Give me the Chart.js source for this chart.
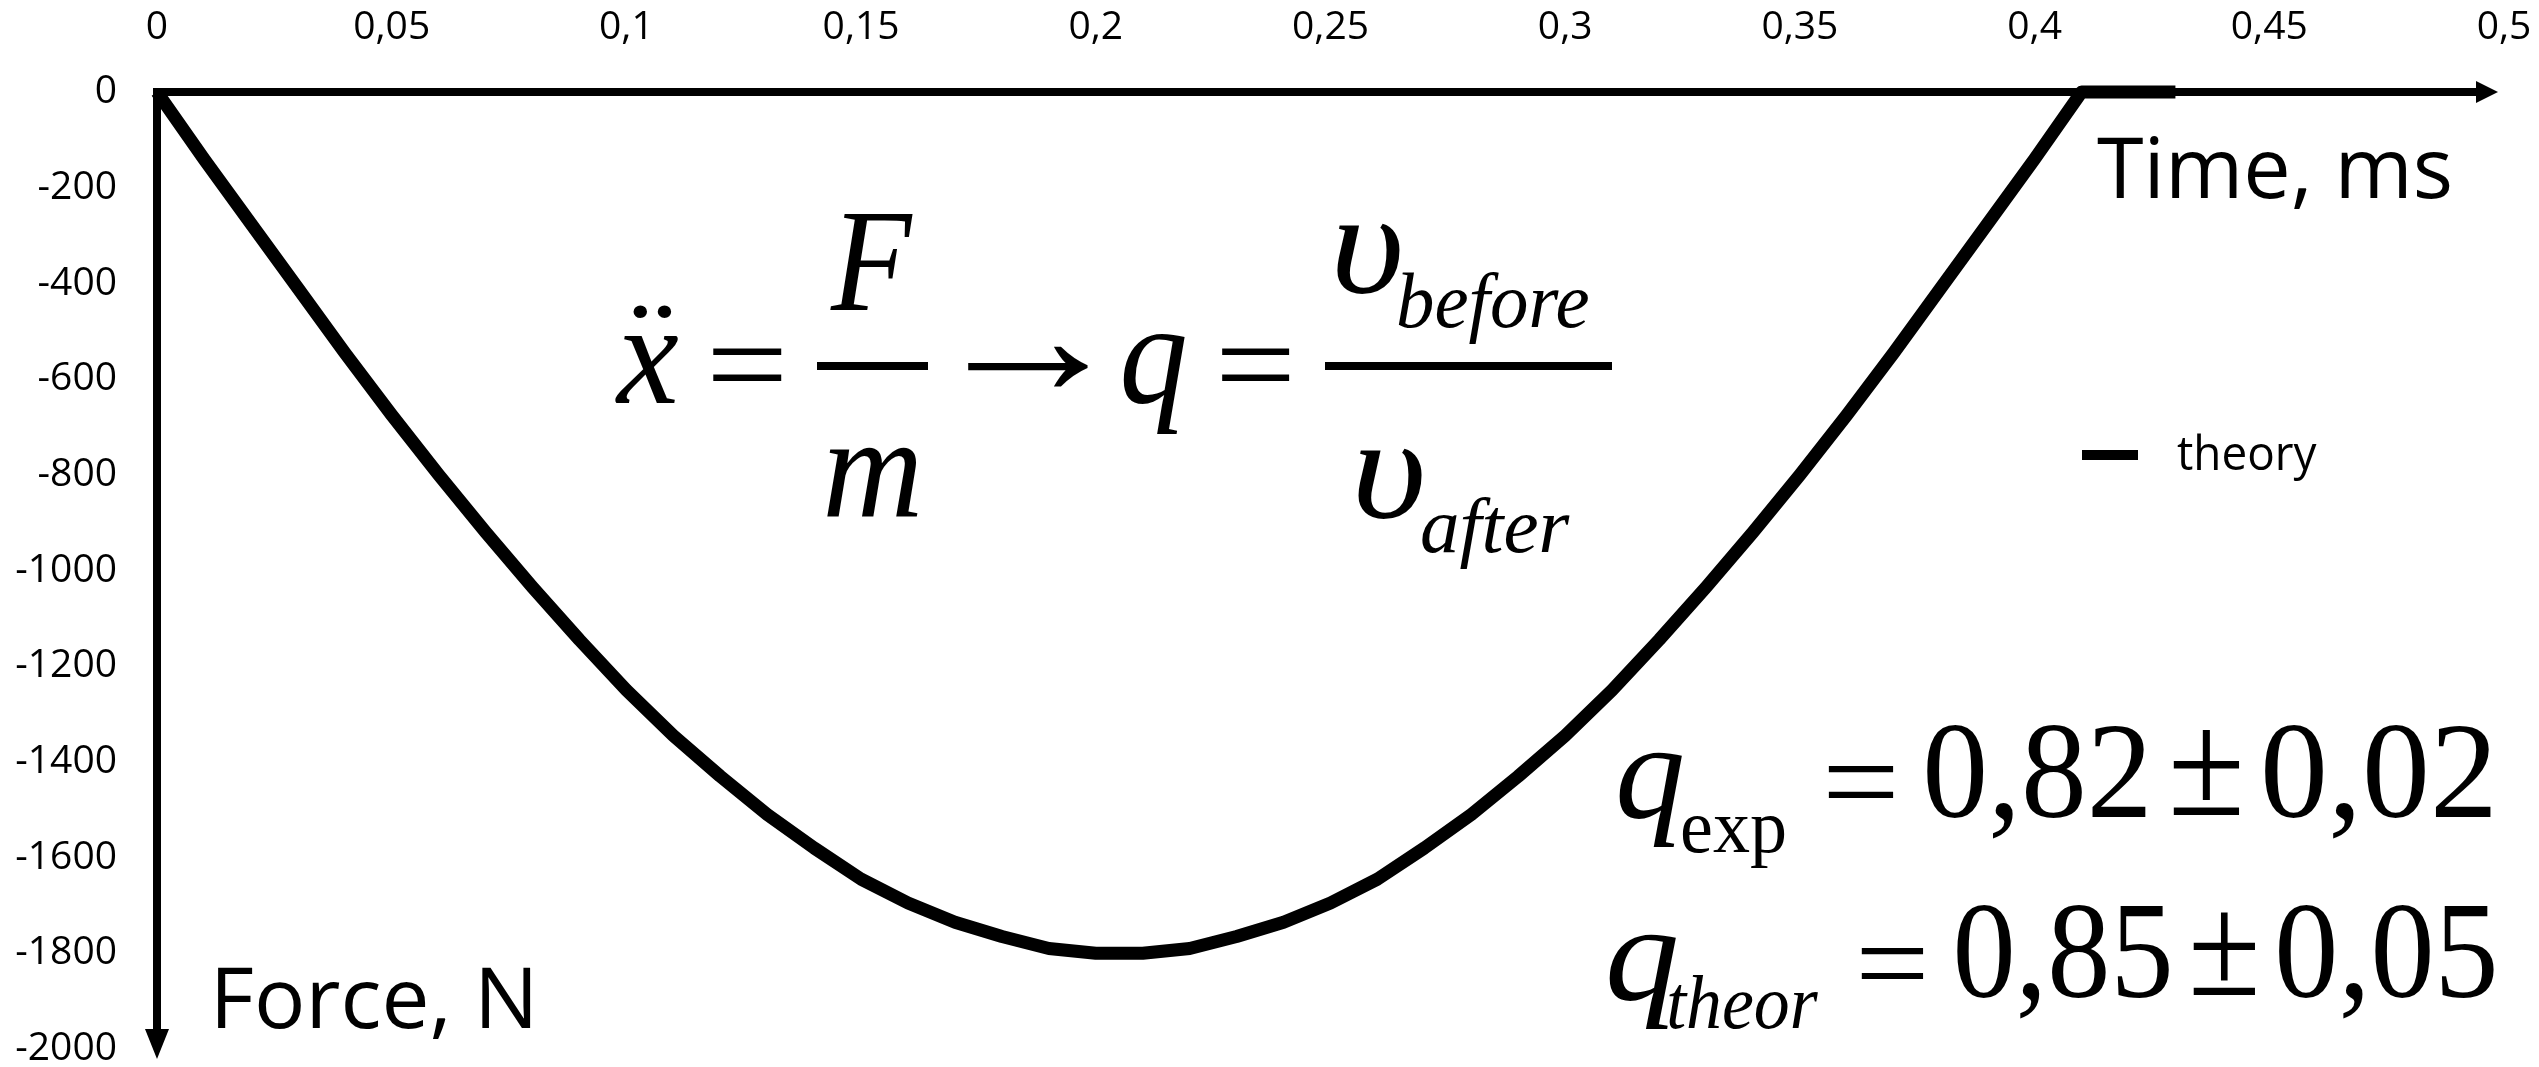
<!DOCTYPE html>
<html>
<head>
<meta charset="utf-8">
<title>Force vs time</title>
<script src="https://cdn.jsdelivr.net/npm/chart.js@4.4.0/dist/chart.umd.min.js"></script>
<style>
  html, body { margin: 0; padding: 0; background: #fff; overflow: hidden; }
  #wrap { width: 2539px; height: 1067px; position: relative; }
</style>
</head>
<body>
<div id="wrap"><canvas id="c" width="2539" height="1067"></canvas></div>
<script>
// Theoretical contact force during the impact (time in ms, force in N)
const timeMs = [
  0, 0.01, 0.02, 0.03, 0.04, 0.05, 0.06, 0.07, 0.08, 0.09,
  0.10, 0.11, 0.12, 0.13, 0.14, 0.15, 0.16, 0.17, 0.18, 0.19,
  0.20, 0.21, 0.22, 0.23, 0.24, 0.25, 0.26, 0.27, 0.28, 0.29,
  0.30, 0.31, 0.32, 0.33, 0.34, 0.35, 0.36, 0.37, 0.38, 0.39,
  0.40, 0.41, 0.42, 0.43
];
const forceN = [
  0, -140, -275, -410, -545, -675, -800, -920, -1035, -1145,
  -1250, -1345, -1430, -1510, -1580, -1645, -1695, -1735, -1765, -1790,
  -1800, -1800, -1790, -1765, -1735, -1695, -1645, -1580, -1510, -1430,
  -1345, -1250, -1145, -1035, -920, -800, -675, -545, -410, -275,
  -140, 0, 0, 0
];
const seriesName = 'theory';

const xTickValues = [0, 0.05, 0.1, 0.15, 0.2, 0.25, 0.3, 0.35, 0.4, 0.45, 0.5];
const xTickLabels = ['0', '0,05', '0,1', '0,15', '0,2', '0,25', '0,3', '0,35', '0,4', '0,45', '0,5'];
const yTickValues = [-2000, -1800, -1600, -1400, -1200, -1000, -800, -600, -400, -200, 0];
const yTickLabels = ['-2000', '-1800', '-1600', '-1400', '-1200', '-1000', '-800', '-600', '-400', '-200', '0'];

const xTitle = 'Time, ms';
const yTitle = 'Force, N';

const SANS = '"Open Sans", "Noto Sans", sans-serif';
const SERIF = '"Liberation Serif", "Times New Roman", serif';

// Draw a string so that its ink spans exactly [x0, x1] on the given baseline.
function fitText(ctx, str, font, x0, x1, baseline) {
  ctx.font = font;
  const m = ctx.measureText(str);
  const ink = m.actualBoundingBoxLeft + m.actualBoundingBoxRight;
  const sx = (x1 - x0) / ink;
  ctx.save();
  ctx.translate(x0, baseline);
  ctx.scale(sx, 1);
  ctx.textAlign = 'left';
  ctx.textBaseline = 'alphabetic';
  ctx.fillText(str, m.actualBoundingBoxLeft, 0);
  ctx.restore();
}

// Same horizontal fit, with the ink centred vertically on cy.
function fitCentered(ctx, str, font, x0, x1, cy) {
  ctx.font = font;
  const m = ctx.measureText(str);
  const baseline = cy + (m.actualBoundingBoxAscent - m.actualBoundingBoxDescent) / 2;
  fitText(ctx, str, font, x0, x1, baseline);
}

// Draw a symbol so that its ink fills the box [x0, x1] x [y0, y1].
function fitBox(ctx, str, font, x0, x1, y0, y1) {
  ctx.font = font;
  const m = ctx.measureText(str);
  const w = m.actualBoundingBoxLeft + m.actualBoundingBoxRight;
  const h = m.actualBoundingBoxAscent + m.actualBoundingBoxDescent;
  ctx.save();
  ctx.translate(x0, y0);
  ctx.scale((x1 - x0) / w, (y1 - y0) / h);
  ctx.textAlign = 'left';
  ctx.textBaseline = 'alphabetic';
  ctx.fillText(str, m.actualBoundingBoxLeft, m.actualBoundingBoxAscent);
  ctx.restore();
}

// Axis lines with arrowheads, drawn through the scales
const arrowAxes = {
  id: 'arrowAxes',
  beforeDatasetsDraw(chart) {
    const { ctx, chartArea, scales: { x, y } } = chart;
    const ox = x.getPixelForValue(0);
    const oy = y.getPixelForValue(0);
    const half = 4;
    ctx.save();
    ctx.fillStyle = '#000';
    // time axis
    const tipX = chartArea.right - 6, hL = 22, hW = 11;
    ctx.fillRect(ox - half, oy - half, tipX - hL - (ox - half) + 1, half * 2);
    ctx.beginPath();
    ctx.moveTo(tipX - hL, oy - hW);
    ctx.lineTo(tipX, oy);
    ctx.lineTo(tipX - hL, oy + hW);
    ctx.closePath();
    ctx.fill();
    // force axis
    const tipY = chartArea.bottom + 10, vL = 30, vW = 12;
    ctx.fillRect(ox - half, oy - half, half * 2, tipY - vL - (oy - half) + 1);
    ctx.beginPath();
    ctx.moveTo(ox - vW, tipY - vL);
    ctx.lineTo(ox, tipY);
    ctx.lineTo(ox + vW, tipY - vL);
    ctx.closePath();
    ctx.fill();
    ctx.restore();
  }
};

// Axis titles, legend entry and the formulas written on the plot
const annotations = {
  id: 'annotations',
  afterDraw(chart) {
    const { ctx } = chart;
    const ds = chart.data.datasets[0];
    ctx.save();
    ctx.fillStyle = '#000';

    // axis titles
    fitText(ctx, xTitle, `84px ${SANS}`, 2097, 2450, 198);
    fitText(ctx, yTitle, `84px ${SANS}`, 218, 531, 1028);

    // legend
    ctx.fillStyle = ds.borderColor;
    ctx.fillRect(2082, 450, 56, 10);
    ctx.fillStyle = '#000';
    fitText(ctx, ds.label, `47px ${SANS}`, 2177, 2317, 470);

    const it146 = `italic 146px ${SERIF}`;
    const it78 = `italic 78px ${SERIF}`;
    const up146 = `146px ${SERIF}`;

    // x'' = F / m  ->  q = v_before / v_after
    fitText(ctx, 'x', it146, 615, 678, 403);
    fitBox(ctx, '\u00A8', up146, 633, 672, 305, 318);
    fitBox(ctx, '=', up146, 713, 782, 348, 381);
    fitText(ctx, 'F', it146, 830, 913, 310);
    ctx.fillRect(817, 362, 111, 8);
    fitText(ctx, 'm', it146, 827, 918, 517);
    fitCentered(ctx, '\u2192', `170px ${SERIF}`, 967, 1088, 366);
    fitText(ctx, 'q', it146, 1123, 1185, 403);
    fitBox(ctx, '=', up146, 1222, 1290, 348, 381);
    ctx.fillRect(1325, 362, 287, 8);
    fitText(ctx, '\u03C5', it146, 1337, 1400, 293);
    fitText(ctx, 'before', it78, 1398, 1588, 327);
    fitText(ctx, '\u03C5', it146, 1358, 1422, 518);
    fitText(ctx, 'after', it78, 1422, 1570, 552);

    const it138 = `italic 138px ${SERIF}`;
    const up138 = `138px ${SERIF}`;
    const up76 = `76px ${SERIF}`;
    const it76 = `italic 76px ${SERIF}`;

    // q_exp = 0,82 ± 0,02
    fitText(ctx, 'q', it138, 1619, 1682, 818);
    fitText(ctx, 'exp', up76, 1682, 1785, 852);
    fitBox(ctx, '=', up138, 1828, 1894, 765, 797);
    fitText(ctx, '0,82', up138, 1927, 2146, 817);
    fitBox(ctx, '\u00B1', up138, 2173, 2239, 730, 815);
    fitText(ctx, '0,02', up138, 2265, 2491, 817);

    // q_theor = 0,85 ± 0,05
    fitText(ctx, 'q', it138, 1609, 1676, 1000);
    fitText(ctx, 'theor', it76, 1669, 1818, 1028);
    fitBox(ctx, '=', up138, 1861, 1924, 947, 978);
    fitText(ctx, '0,85', up138, 1957, 2169, 997);
    fitBox(ctx, '\u00B1', up138, 2193, 2255, 913, 995);
    fitText(ctx, '0,05', up138, 2279, 2494, 997);

    ctx.restore();
  }
};

new Chart(document.getElementById('c'), {
  type: 'line',
  data: {
    datasets: [{
      label: seriesName,
      data: timeMs.map((t, i) => ({ x: t, y: forceN[i] })),
      borderColor: '#000000',
      backgroundColor: '#000000',
      borderWidth: 13,
      borderJoinStyle: 'round',
      borderCapStyle: 'butt',
      pointRadius: 0,
      tension: 0,
      fill: false,
      clip: false
    }]
  },
  options: {
    responsive: false,
    animation: false,
    devicePixelRatio: 1,
    layout: { padding: { left: 0, top: 0, right: 35, bottom: 18 } },
    plugins: { legend: { display: false }, tooltip: { enabled: false } },
    scales: {
      x: {
        type: 'linear',
        position: 'top',
        min: 0,
        max: 0.5,
        afterBuildTicks: s => { s.ticks = xTickValues.map(v => ({ value: v })); },
        afterFit: s => { s.height = 92; s.paddingLeft = 0; s.paddingRight = 0; },
        grid: { display: false, drawTicks: false, tickLength: 0 },
        border: { display: false },
        ticks: {
          autoSkip: false,
          maxRotation: 0,
          padding: 41,
          color: '#000',
          font: { family: SANS, size: 39 },
          callback: (v, i) => xTickLabels[i]
        }
      },
      y: {
        type: 'linear',
        position: 'left',
        min: -2000,
        max: 0,
        afterBuildTicks: s => { s.ticks = yTickValues.map(v => ({ value: v })); },
        afterFit: s => { s.width = 157; s.paddingTop = 0; s.paddingBottom = 0; },
        grid: { display: false, drawTicks: false, tickLength: 0 },
        border: { display: false },
        ticks: {
          autoSkip: false,
          padding: 40,
          color: '#000',
          font: { family: SANS, size: 39 },
          callback: (v, i) => yTickLabels[i]
        }
      }
    }
  },
  plugins: [arrowAxes, annotations]
});
</script>
</body>
</html>
